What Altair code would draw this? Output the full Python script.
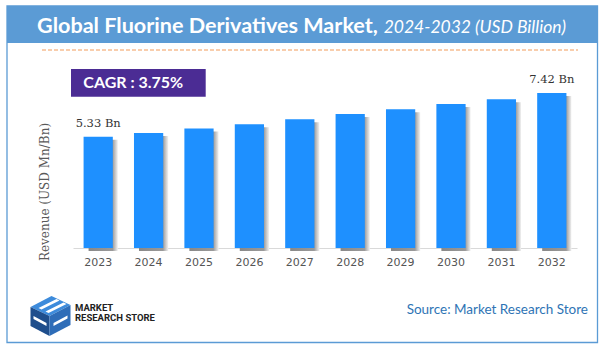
import altair as alt
import pandas as pd

# ---- data ----
years = ["2023", "2024", "2025", "2026", "2027", "2028", "2029", "2030", "2031", "2032"]
revenue = [5.33, 5.51, 5.73, 5.93, 6.17, 6.42, 6.65, 6.90, 7.13, 7.42]
value_labels = ["5.33 Bn", "", "", "", "", "", "", "", "", "7.42 Bn"]

title_main = "Global Fluorine Derivatives Market,"
title_sub = "2024-2032 (USD Billion)"
cagr_text = "CAGR :  3.75%"
y_title = "Revenue (USD Mn/Bn)"
source_text = "Source: Market Research Store"
logo_line1 = "MARKET"
logo_line2 = "RESEARCH STORE"

df = pd.DataFrame({"year": years, "revenue": revenue, "label": value_labels})

one = alt.Data(values=[{}])

xscale = alt.Scale(paddingInner=0.42, paddingOuter=0.21)
yscale = alt.Scale(domain=[0, 8])

x_enc = alt.X("year:N", scale=xscale, sort=years,
              axis=alt.Axis(title=None, labelAngle=0, ticks=False, domainColor="#D9D9D9",
                            labelFont="DejaVu Sans", labelFontSize=11, labelColor="#555555",
                            labelPadding=8))
y_enc = alt.Y("revenue:Q", scale=yscale, axis=None)

shadow = alt.Chart(df).mark_bar(
    xOffset=5, yOffset=3,
    color=alt.Gradient(gradient="linear", x1=0, x2=1, y1=0, y2=0,
                       stops=[alt.GradientStop(offset=0, color="#888888"),
                              alt.GradientStop(offset=0.82, color="#9a9a9a"),
                              alt.GradientStop(offset=1, color="#f2f2f2")])
).encode(x=x_enc, y=y_enc)

bars = alt.Chart(df).mark_bar(color="#1E90FF").encode(x=x_enc, y=y_enc)

labels = alt.Chart(df).mark_text(
    baseline="alphabetic", dy=-10, font="DejaVu Serif", fontSize=11.5, color="#333333"
).encode(x=x_enc, y=y_enc, text="label:N")

# ---- decorations (pixel positions relative to plot origin) ----
border = alt.Chart(one).mark_rect(fill="white", fillOpacity=0, stroke="#5B9BD5", strokeWidth=1.3).encode(
    x=alt.value(-66), x2=alt.value(524.5), y=alt.value(-75), y2=alt.value(261.5))
banner = alt.Chart(one).mark_rect(color="#5B9BD5").encode(
    x=alt.value(-66), x2=alt.value(524.5), y=alt.value(-75), y2=alt.value(-38))
t_main = alt.Chart(one).mark_text(align="left", baseline="alphabetic", font="Lato", fontWeight="bold",
                                  fontSize=21.6, color="white").encode(
    x=alt.value(-36), y=alt.value(-48.5), text=alt.value(title_main))
t_sub = alt.Chart(one).mark_text(align="right", baseline="alphabetic", font="Lato", fontStyle="italic",
                                 fontSize=17.5, color="white").encode(
    x=alt.value(493), y=alt.value(-48.5), text=alt.value(title_sub))
dash = alt.Chart(one).mark_rule(color="#F29B5B", strokeDash=[4, 2], strokeWidth=1).encode(
    x=alt.value(-31), x2=alt.value(505), y=alt.value(-31))
cagr_box = alt.Chart(one).mark_rect(color="#4B2C94").encode(
    x=alt.value(-2), x2=alt.value(132.7), y=alt.value(-12), y2=alt.value(15.7))
cagr = alt.Chart(one).mark_text(align="left", baseline="middle", font="Lato", fontWeight="bold",
                                fontSize=16, color="white").encode(
    x=alt.value(10.3), y=alt.value(2.3), text=alt.value(cagr_text))
ytitle = alt.Chart(one).mark_text(angle=270, align="center", baseline="middle", font="DejaVu Serif",
                                  fontSize=12, color="#595959").encode(
    x=alt.value(-28), y=alt.value(111), text=alt.value(y_title))
source = alt.Chart(one).mark_text(align="right", baseline="middle", font="Lato", fontSize=13.5,
                                  color="#2E74B5").encode(
    x=alt.value(515), y=alt.value(229), text=alt.value(source_text))
logo1 = alt.Chart(one).mark_text(align="left", baseline="middle", font="Roboto", fontWeight="bold",
                                 fontSize=9.5, color="#222222").encode(
    x=alt.value(2), y=alt.value(226.5), text=alt.value(logo_line1))
logo2 = alt.Chart(one).mark_text(align="left", baseline="middle", font="Roboto", fontWeight="bold",
                                 fontSize=9.5, color="#222222").encode(
    x=alt.value(2), y=alt.value(237), text=alt.value(logo_line2))

top_face = "M -1 -0.45 L 0.05 -1 L 1 -0.55 L -0.05 0 Z"
left_face = "M -1 -0.45 L -0.05 0 L -0.05 1 L -1 0.5 Z"
right_face = "M -0.05 0 L 1 -0.55 L 1 0.45 L -0.05 1 Z"
stripes = ("M -0.6 -0.4 L 0.3 -0.85 L 0.45 -0.78 L -0.45 -0.33 Z "
           "M -0.25 -0.22 L 0.65 -0.68 L 0.8 -0.6 L -0.1 -0.15 Z "
           "M 0.15 0.35 L 0.85 -0.02 L 0.85 0.12 L 0.15 0.5 Z "
           "M -0.85 0.0 L -0.2 0.35 L -0.2 0.5 L -0.85 0.15 Z")

def icon(path, col):
    return alt.Chart(one).mark_point(shape=path, filled=True, size=1600, color=col, opacity=1,
                                     strokeWidth=0).encode(x=alt.value(-22.5), y=alt.value(235))

logo_icon = icon(top_face, "#3D8BDB") + icon(left_face, "#1F4E8C") + icon(right_face, "#2E6DB8") + icon(stripes, "#FFFFFF")

chart = alt.layer(
    border, banner, t_main, t_sub, dash, cagr_box, cagr, ytitle,
    shadow, bars, labels, source, logo1, logo2, logo_icon
).properties(
    width=504, height=167,
    padding={"left": 73, "top": 81, "right": 30, "bottom": 105},
    autosize=alt.AutoSizeParams(type="none"),
    background="white"
).configure_view(stroke=None)

chart.save("out.html", embed_options={"renderer": "svg", "actions": False})
